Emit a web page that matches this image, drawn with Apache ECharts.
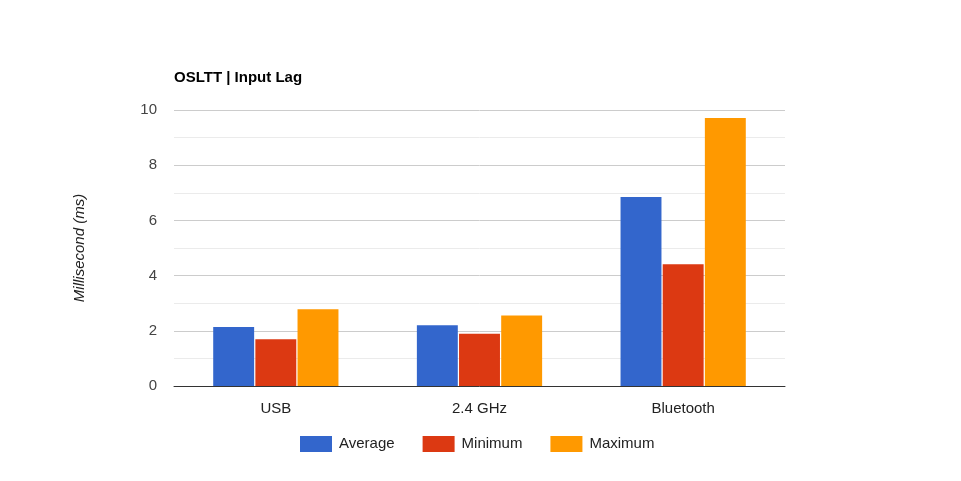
<!DOCTYPE html>
<html><head><meta charset="utf-8">
<script src="https://cdn.jsdelivr.net/npm/echarts@6/dist/echarts.min.js"></script>
<style>html,body{margin:0;padding:0;background:#fff}#c{width:961px;height:481px}</style>
</head><body><div id="c"></div>
<script>
const categories = ['USB', '2.4 GHz', 'Bluetooth'];
const seriesNames = ['Average', 'Minimum', 'Maximum'];
const averageValues = [2.14, 2.20, 6.85];
const minimumValues = [1.69, 1.89, 4.41];
const maximumValues = [2.78, 2.55, 9.71];
const colors = ['#3366cc', '#dc3912', '#ff9900'];
const FONT = '"Liberation Sans", Arial, sans-serif';
const chart = echarts.init(document.getElementById('c'));
const values = [averageValues, minimumValues, maximumValues];
chart.setOption({
  animation: false,
  textStyle: { fontFamily: FONT },
  title: { text: 'OSLTT | Input Lag', left: 174, top: 70, padding: 0,
    textStyle: { fontFamily: FONT, fontSize: 15, fontWeight: 'bold', color: '#000' } },
  legend: { top: 436, left: 300, padding: 0, itemWidth: 32, itemHeight: 16, itemGap: 28,
    icon: 'rect',
    textStyle: { fontFamily: FONT, fontSize: 15, color: '#222', padding: [0, 0, 0, 2] }, data: seriesNames },
  grid: { left: 174, right: 176, top: 110, bottom: 95 },
  xAxis: { type: 'category', data: categories,
    axisLine: { lineStyle: { color: '#333', width: 1 } }, axisTick: { show: false },
    axisLabel: { fontSize: 15, color: '#222', margin: 15 } },
  yAxis: { type: 'value', min: 0, max: 10, interval: 2,
    name: 'Millisecond (ms)', nameLocation: 'middle', nameGap: 87,
    nameTextStyle: { fontFamily: FONT, fontSize: 15, fontStyle: 'italic', color: '#222' },
    axisLine: { show: false }, axisTick: { show: false },
    axisLabel: { fontSize: 15, color: '#444', margin: 17 },
    splitLine: { lineStyle: { color: '#cccccc' } },
    minorTick: { show: false, splitNumber: 2 },
    minorSplitLine: { show: true, lineStyle: { color: '#ebebeb' } } },
  series: seriesNames.map((n, i) => ({
    name: n, type: 'bar', data: values[i], barGap: '3%', barCategoryGap: '38.5%',
    itemStyle: { color: colors[i] }
  }))
});
</script></body></html>
